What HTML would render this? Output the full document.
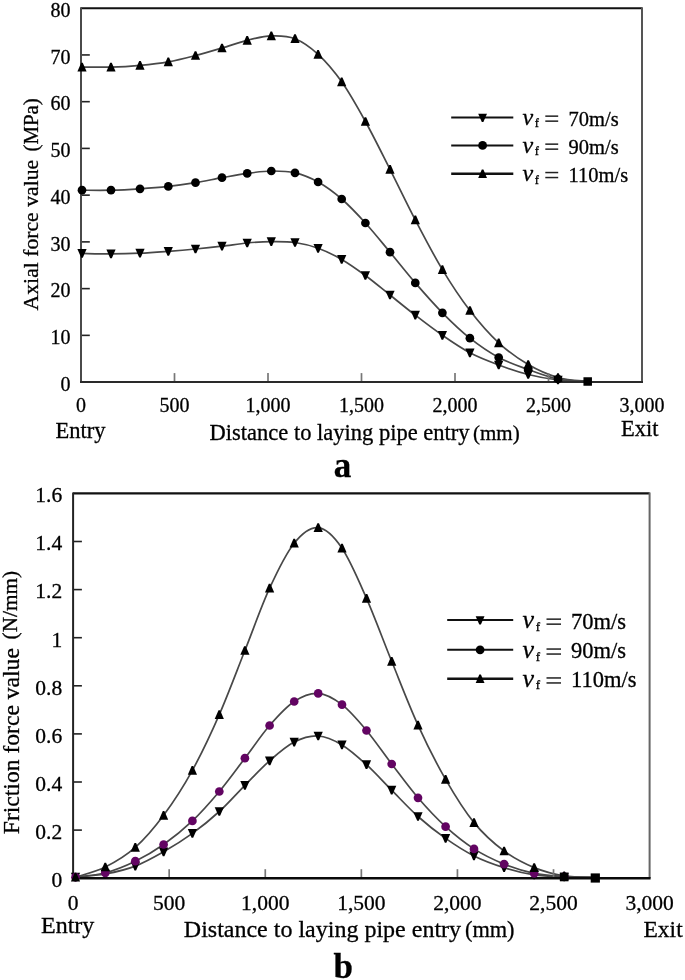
<!DOCTYPE html><html><head><meta charset="utf-8"><style>html,body{margin:0;padding:0;background:#fff;}svg{display:block;will-change:transform}text{stroke:#000;stroke-width:0.3px}</style></head><body>
<svg width="685" height="980" viewBox="0 0 685 980" font-family='"Liberation Serif", serif' fill="#000">
<path d="M81.00,8.20 H642.00" fill="none" stroke="#111" stroke-width="2.1"/>
<path d="M642.00,7.20 V382.10" fill="none" stroke="#555" stroke-width="2"/>
<path d="M82.00,253.40 C86.83,253.48 101.33,253.93 111.00,253.90 C120.67,253.87 130.45,253.63 140.00,253.20 C149.55,252.77 159.05,252.00 168.30,251.30 C177.55,250.60 186.55,249.85 195.50,249.00 C204.45,248.15 213.38,247.20 222.00,246.20 C230.62,245.20 238.98,243.77 247.20,243.00 C255.42,242.23 263.33,241.68 271.30,241.60 C279.27,241.52 287.20,241.38 295.00,242.50 C302.80,243.62 310.32,245.48 318.10,248.30 C325.88,251.12 333.82,254.87 341.70,259.40 C349.58,263.93 357.35,269.57 365.40,275.50 C373.45,281.43 381.68,288.38 390.00,295.00 C398.32,301.62 406.57,308.48 415.30,315.20 C424.03,321.92 433.30,329.03 442.40,335.30 C451.50,341.57 460.52,347.85 469.90,352.80 C479.28,357.75 488.98,361.38 498.70,365.00 C508.42,368.62 518.32,372.00 528.20,374.50 C538.08,377.00 548.08,378.83 558.00,380.00 C567.92,381.17 582.75,381.25 587.70,381.50" fill="none" stroke="#484848" stroke-width="1.7"/>
<path d="M82.00,190.20 C86.83,190.20 101.33,190.43 111.00,190.20 C120.67,189.97 130.45,189.43 140.00,188.80 C149.55,188.17 159.05,187.42 168.30,186.40 C177.55,185.38 186.55,184.15 195.50,182.70 C204.45,181.25 213.38,179.25 222.00,177.70 C230.62,176.15 238.98,174.52 247.20,173.40 C255.42,172.28 263.33,171.08 271.30,171.00 C279.27,170.92 287.20,171.07 295.00,172.90 C302.80,174.73 310.32,177.65 318.10,182.00 C325.88,186.35 333.82,192.17 341.70,199.00 C349.58,205.83 357.35,214.13 365.40,223.00 C373.45,231.87 381.68,242.22 390.00,252.20 C398.32,262.18 406.57,272.80 415.30,282.90 C424.03,293.00 433.30,303.58 442.40,312.80 C451.50,322.02 460.52,330.75 469.90,338.20 C479.28,345.65 488.98,352.28 498.70,357.50 C508.42,362.72 518.32,365.92 528.20,369.50 C538.08,373.08 548.08,377.00 558.00,379.00 C567.92,381.00 582.75,381.08 587.70,381.50" fill="none" stroke="#484848" stroke-width="1.7"/>
<path d="M82.00,67.10 C86.83,67.10 101.33,67.40 111.00,67.10 C120.67,66.80 130.45,66.18 140.00,65.30 C149.55,64.42 159.05,63.43 168.30,61.80 C177.55,60.17 186.55,57.80 195.50,55.50 C204.45,53.20 213.38,50.53 222.00,48.00 C230.62,45.47 238.98,42.32 247.20,40.30 C255.42,38.28 263.33,36.17 271.30,35.90 C279.27,35.63 287.20,35.63 295.00,38.70 C302.80,41.77 310.32,47.12 318.10,54.30 C325.88,61.48 333.82,70.60 341.70,81.80 C349.58,93.00 357.35,106.92 365.40,121.50 C373.45,136.08 381.68,152.90 390.00,169.30 C398.32,185.70 406.57,203.18 415.30,219.90 C424.03,236.62 433.30,254.50 442.40,269.60 C451.50,284.70 460.52,298.30 469.90,310.50 C479.28,322.70 488.98,333.80 498.70,342.80 C508.42,351.80 518.32,358.72 528.20,364.50 C538.08,370.28 548.08,374.67 558.00,377.50 C567.92,380.33 582.75,380.83 587.70,381.50" fill="none" stroke="#484848" stroke-width="1.7"/>
<path d="M81.00,335.36 h8.8" stroke="#222" stroke-width="1.6"/>
<path d="M81.00,288.62 h8.8" stroke="#222" stroke-width="1.6"/>
<path d="M81.00,241.89 h8.8" stroke="#222" stroke-width="1.6"/>
<path d="M81.00,195.15 h8.8" stroke="#222" stroke-width="1.6"/>
<path d="M81.00,148.41 h8.8" stroke="#222" stroke-width="1.6"/>
<path d="M81.00,101.68 h8.8" stroke="#222" stroke-width="1.6"/>
<path d="M81.00,54.94 h8.8" stroke="#222" stroke-width="1.6"/>
<path d="M174.50,382.10 v-9" stroke="#777" stroke-width="1.7"/>
<path d="M268.00,382.10 v-9" stroke="#777" stroke-width="1.7"/>
<path d="M361.50,382.10 v-9" stroke="#777" stroke-width="1.7"/>
<path d="M455.00,382.10 v-9" stroke="#777" stroke-width="1.7"/>
<path d="M548.50,382.10 v-9" stroke="#777" stroke-width="1.7"/>
<path d="M81.00,7.20 V382.10" fill="none" stroke="#4a4a4a" stroke-width="2"/>
<path d="M80.00,382.10 H643.00" fill="none" stroke="#2a2a2a" stroke-width="2"/>
<path d="M77.40,249.03 L86.60,249.03 L82.80,257.77 L81.20,257.77Z" fill="#000"/>
<path d="M106.40,249.53 L115.60,249.53 L111.80,258.27 L110.20,258.27Z" fill="#000"/>
<path d="M135.40,248.83 L144.60,248.83 L140.80,257.57 L139.20,257.57Z" fill="#000"/>
<path d="M163.70,246.93 L172.90,246.93 L169.10,255.67 L167.50,255.67Z" fill="#000"/>
<path d="M190.90,244.63 L200.10,244.63 L196.30,253.37 L194.70,253.37Z" fill="#000"/>
<path d="M217.40,241.83 L226.60,241.83 L222.80,250.57 L221.20,250.57Z" fill="#000"/>
<path d="M242.60,238.63 L251.80,238.63 L248.00,247.37 L246.40,247.37Z" fill="#000"/>
<path d="M266.70,237.23 L275.90,237.23 L272.10,245.97 L270.50,245.97Z" fill="#000"/>
<path d="M290.40,238.13 L299.60,238.13 L295.80,246.87 L294.20,246.87Z" fill="#000"/>
<path d="M313.50,243.93 L322.70,243.93 L318.90,252.67 L317.30,252.67Z" fill="#000"/>
<path d="M337.10,255.03 L346.30,255.03 L342.50,263.77 L340.90,263.77Z" fill="#000"/>
<path d="M360.80,271.13 L370.00,271.13 L366.20,279.87 L364.60,279.87Z" fill="#000"/>
<path d="M385.40,290.63 L394.60,290.63 L390.80,299.37 L389.20,299.37Z" fill="#000"/>
<path d="M410.70,310.83 L419.90,310.83 L416.10,319.57 L414.50,319.57Z" fill="#000"/>
<path d="M437.80,330.93 L447.00,330.93 L443.20,339.67 L441.60,339.67Z" fill="#000"/>
<path d="M465.30,348.43 L474.50,348.43 L470.70,357.17 L469.10,357.17Z" fill="#000"/>
<path d="M494.10,360.63 L503.30,360.63 L499.50,369.37 L497.90,369.37Z" fill="#000"/>
<path d="M523.60,370.13 L532.80,370.13 L529.00,378.87 L527.40,378.87Z" fill="#000"/>
<path d="M553.40,375.63 L562.60,375.63 L558.80,384.37 L557.20,384.37Z" fill="#000"/>
<circle cx="82.00" cy="190.20" r="4.35" fill="#000"/>
<circle cx="111.00" cy="190.20" r="4.35" fill="#000"/>
<circle cx="140.00" cy="188.80" r="4.35" fill="#000"/>
<circle cx="168.30" cy="186.40" r="4.35" fill="#000"/>
<circle cx="195.50" cy="182.70" r="4.35" fill="#000"/>
<circle cx="222.00" cy="177.70" r="4.35" fill="#000"/>
<circle cx="247.20" cy="173.40" r="4.35" fill="#000"/>
<circle cx="271.30" cy="171.00" r="4.35" fill="#000"/>
<circle cx="295.00" cy="172.90" r="4.35" fill="#000"/>
<circle cx="318.10" cy="182.00" r="4.35" fill="#000"/>
<circle cx="341.70" cy="199.00" r="4.35" fill="#000"/>
<circle cx="365.40" cy="223.00" r="4.35" fill="#000"/>
<circle cx="390.00" cy="252.20" r="4.35" fill="#000"/>
<circle cx="415.30" cy="282.90" r="4.35" fill="#000"/>
<circle cx="442.40" cy="312.80" r="4.35" fill="#000"/>
<circle cx="469.90" cy="338.20" r="4.35" fill="#000"/>
<circle cx="498.70" cy="357.50" r="4.35" fill="#000"/>
<circle cx="528.20" cy="369.50" r="4.35" fill="#000"/>
<circle cx="558.00" cy="379.00" r="4.35" fill="#000"/>
<path d="M81.20,62.73 L82.80,62.73 L86.60,71.47 L77.40,71.47Z" fill="#000"/>
<path d="M110.20,62.73 L111.80,62.73 L115.60,71.47 L106.40,71.47Z" fill="#000"/>
<path d="M139.20,60.93 L140.80,60.93 L144.60,69.67 L135.40,69.67Z" fill="#000"/>
<path d="M167.50,57.43 L169.10,57.43 L172.90,66.17 L163.70,66.17Z" fill="#000"/>
<path d="M194.70,51.13 L196.30,51.13 L200.10,59.87 L190.90,59.87Z" fill="#000"/>
<path d="M221.20,43.63 L222.80,43.63 L226.60,52.37 L217.40,52.37Z" fill="#000"/>
<path d="M246.40,35.93 L248.00,35.93 L251.80,44.67 L242.60,44.67Z" fill="#000"/>
<path d="M270.50,31.53 L272.10,31.53 L275.90,40.27 L266.70,40.27Z" fill="#000"/>
<path d="M294.20,34.33 L295.80,34.33 L299.60,43.07 L290.40,43.07Z" fill="#000"/>
<path d="M317.30,49.93 L318.90,49.93 L322.70,58.67 L313.50,58.67Z" fill="#000"/>
<path d="M340.90,77.43 L342.50,77.43 L346.30,86.17 L337.10,86.17Z" fill="#000"/>
<path d="M364.60,117.13 L366.20,117.13 L370.00,125.87 L360.80,125.87Z" fill="#000"/>
<path d="M389.20,164.93 L390.80,164.93 L394.60,173.67 L385.40,173.67Z" fill="#000"/>
<path d="M414.50,215.53 L416.10,215.53 L419.90,224.27 L410.70,224.27Z" fill="#000"/>
<path d="M441.60,265.23 L443.20,265.23 L447.00,273.97 L437.80,273.97Z" fill="#000"/>
<path d="M469.10,306.13 L470.70,306.13 L474.50,314.87 L465.30,314.87Z" fill="#000"/>
<path d="M497.90,338.43 L499.50,338.43 L503.30,347.17 L494.10,347.17Z" fill="#000"/>
<path d="M527.40,360.13 L529.00,360.13 L532.80,368.87 L523.60,368.87Z" fill="#000"/>
<path d="M557.20,373.13 L558.80,373.13 L562.60,381.87 L553.40,381.87Z" fill="#000"/>
<rect x="583.45" y="377.25" width="8.5" height="8.5" fill="#000"/>
<text x="70.6" y="390.90" font-size="20" text-anchor="end">0</text>
<text x="70.6" y="344.16" font-size="20" text-anchor="end">10</text>
<text x="70.6" y="297.43" font-size="20" text-anchor="end">20</text>
<text x="70.6" y="250.69" font-size="20" text-anchor="end">30</text>
<text x="70.6" y="203.95" font-size="20" text-anchor="end">40</text>
<text x="70.6" y="157.21" font-size="20" text-anchor="end">50</text>
<text x="70.6" y="110.48" font-size="20" text-anchor="end">60</text>
<text x="70.6" y="63.74" font-size="20" text-anchor="end">70</text>
<text x="70.6" y="17.00" font-size="20" text-anchor="end">80</text>
<text x="81.00" y="411.6" font-size="20" text-anchor="middle">0</text>
<text x="174.50" y="411.6" font-size="20" text-anchor="middle">500</text>
<text x="268.00" y="411.6" font-size="20" text-anchor="middle">1,000</text>
<text x="361.50" y="411.6" font-size="20" text-anchor="middle">1,500</text>
<text x="455.00" y="411.6" font-size="20" text-anchor="middle">2,000</text>
<text x="548.50" y="411.6" font-size="20" text-anchor="middle">2,500</text>
<text x="642.00" y="411.6" font-size="20" text-anchor="middle">3,000</text>
<text transform="translate(37.6,310.4) rotate(-90)" font-size="21.7">Axial force value</text>
<text transform="translate(37.6,151.5) rotate(-90)" font-size="20.8">(MPa)</text>
<text x="209.6" y="439.6" font-size="22.5">Distance to laying pipe entry</text>
<text x="473" y="439.6" font-size="21">(mm)</text>
<text x="55.5" y="437.7" font-size="22.5">Entry</text>
<text x="621" y="435.6" font-size="22.5">Exit</text>
<path d="M451.2,117.4 H513.3" stroke="#111" stroke-width="2.0"/>
<path d="M478.20,113.72 L487.00,113.72 L483.40,122.08 L481.80,122.08Z" fill="#000"/>
<text x="522.5" y="125.00" font-size="24" font-style="italic">v</text>
<text x="534.8" y="127.40" font-size="12.5">f</text>
<rect x="545.3" y="115.40" width="12.900000000000091" height="1.5" fill="#222"/>
<rect x="545.3" y="120.40" width="12.900000000000091" height="1.5" fill="#222"/>
<text x="568.6" y="125.90" font-size="20.5">70m/s</text>
<path d="M451.2,145.4 H513.3" stroke="#111" stroke-width="2.0"/>
<circle cx="482.60" cy="145.40" r="4.4" fill="#000"/>
<text x="522.5" y="153.00" font-size="24" font-style="italic">v</text>
<text x="534.8" y="155.40" font-size="12.5">f</text>
<rect x="545.3" y="143.40" width="12.900000000000091" height="1.5" fill="#222"/>
<rect x="545.3" y="148.40" width="12.900000000000091" height="1.5" fill="#222"/>
<text x="568.6" y="153.90" font-size="20.5">90m/s</text>
<path d="M451.2,173.8 H513.3" stroke="#111" stroke-width="2.6"/>
<path d="M481.80,169.62 L483.40,169.62 L487.00,177.98 L478.20,177.98Z" fill="#000"/>
<text x="522.5" y="181.40" font-size="24" font-style="italic">v</text>
<text x="534.8" y="183.80" font-size="12.5">f</text>
<rect x="545.3" y="171.80" width="12.900000000000091" height="1.5" fill="#222"/>
<rect x="545.3" y="176.80" width="12.900000000000091" height="1.5" fill="#222"/>
<text x="568.6" y="182.30" font-size="20.5">110m/s</text>
<path d="M73.10,493.40 H649.60" fill="none" stroke="#111" stroke-width="2.1"/>
<path d="M649.60,492.40 V878.20" fill="none" stroke="#666" stroke-width="2"/>
<path d="M75.50,877.20 C80.47,876.67 95.33,875.85 105.30,874.00 C115.27,872.15 125.58,869.80 135.30,866.10 C145.02,862.40 154.08,857.25 163.60,851.80 C173.12,846.35 183.12,840.12 192.40,833.40 C201.68,826.68 210.55,819.52 219.30,811.50 C228.05,803.48 236.52,793.75 244.90,785.30 C253.28,776.85 261.38,768.00 269.60,760.80 C277.82,753.60 286.10,746.23 294.20,742.10 C302.30,737.97 310.23,735.53 318.20,736.00 C326.17,736.47 333.95,740.12 342.00,744.90 C350.05,749.68 358.22,757.15 366.50,764.70 C374.78,772.25 383.12,781.57 391.70,790.20 C400.28,798.83 409.02,808.47 418.00,816.50 C426.98,824.53 436.27,831.83 445.60,838.40 C454.93,844.97 464.25,851.03 474.00,855.90 C483.75,860.77 494.07,864.43 504.10,867.60 C514.13,870.77 524.18,873.33 534.20,874.90 C544.22,876.47 554.02,876.57 564.20,877.00 C574.38,877.43 590.12,877.42 595.30,877.50" fill="none" stroke="#484848" stroke-width="1.7"/>
<path d="M75.50,877.20 C80.47,876.47 95.33,875.47 105.30,872.80 C115.27,870.13 125.58,865.92 135.30,861.20 C145.02,856.48 154.08,851.22 163.60,844.50 C173.12,837.78 183.12,829.73 192.40,820.90 C201.68,812.07 210.55,801.95 219.30,791.50 C228.05,781.05 236.52,769.20 244.90,758.20 C253.28,747.20 261.38,734.95 269.60,725.50 C277.82,716.05 286.10,706.85 294.20,701.50 C302.30,696.15 310.23,692.87 318.20,693.40 C326.17,693.93 333.95,698.52 342.00,704.70 C350.05,710.88 358.22,720.62 366.50,730.50 C374.78,740.38 383.12,752.78 391.70,764.00 C400.28,775.22 409.02,787.35 418.00,797.80 C426.98,808.25 436.27,818.18 445.60,826.70 C454.93,835.22 464.25,842.67 474.00,848.90 C483.75,855.13 494.07,860.02 504.10,864.10 C514.13,868.18 524.18,871.33 534.20,873.40 C544.22,875.47 554.02,875.82 564.20,876.50 C574.38,877.18 590.12,877.33 595.30,877.50" fill="none" stroke="#484848" stroke-width="1.7"/>
<path d="M75.50,877.20 C80.47,875.50 95.33,871.97 105.30,867.00 C115.27,862.03 125.58,856.02 135.30,847.40 C145.02,838.78 154.08,828.15 163.60,815.30 C173.12,802.45 183.12,787.08 192.40,770.30 C201.68,753.52 210.55,734.57 219.30,714.60 C228.05,694.63 236.52,671.57 244.90,650.50 C253.28,629.43 261.38,606.08 269.60,588.20 C277.82,570.32 286.10,553.28 294.20,543.20 C302.30,533.12 310.23,526.87 318.20,527.70 C326.17,528.53 333.95,536.43 342.00,548.20 C350.05,559.97 358.22,579.45 366.50,598.30 C374.78,617.15 383.12,640.17 391.70,661.30 C400.28,682.43 409.02,705.42 418.00,725.10 C426.98,744.78 436.27,763.15 445.60,779.40 C454.93,795.65 464.25,810.67 474.00,822.60 C483.75,834.53 494.07,843.50 504.10,851.00 C514.13,858.50 524.18,863.47 534.20,867.60 C544.22,871.73 554.02,874.15 564.20,875.80 C574.38,877.45 590.12,877.22 595.30,877.50" fill="none" stroke="#484848" stroke-width="1.7"/>
<path d="M73.10,830.10 h8.8" stroke="#222" stroke-width="1.6"/>
<path d="M73.10,782.00 h8.8" stroke="#222" stroke-width="1.6"/>
<path d="M73.10,733.90 h8.8" stroke="#222" stroke-width="1.6"/>
<path d="M73.10,685.80 h8.8" stroke="#222" stroke-width="1.6"/>
<path d="M73.10,637.70 h8.8" stroke="#222" stroke-width="1.6"/>
<path d="M73.10,589.60 h8.8" stroke="#222" stroke-width="1.6"/>
<path d="M73.10,541.50 h8.8" stroke="#222" stroke-width="1.6"/>
<path d="M169.18,878.20 v-9" stroke="#777" stroke-width="1.7"/>
<path d="M265.27,878.20 v-9" stroke="#777" stroke-width="1.7"/>
<path d="M361.35,878.20 v-9" stroke="#777" stroke-width="1.7"/>
<path d="M457.43,878.20 v-9" stroke="#777" stroke-width="1.7"/>
<path d="M553.52,878.20 v-9" stroke="#777" stroke-width="1.7"/>
<path d="M73.10,492.40 V878.20" fill="none" stroke="#222" stroke-width="2"/>
<path d="M72.10,878.20 H650.60" fill="none" stroke="#0a0a0a" stroke-width="2.4"/>
<path d="M70.90,872.83 L80.10,872.83 L76.30,881.57 L74.70,881.57Z" fill="#000"/>
<path d="M100.70,869.63 L109.90,869.63 L106.10,878.37 L104.50,878.37Z" fill="#000"/>
<path d="M130.70,861.73 L139.90,861.73 L136.10,870.47 L134.50,870.47Z" fill="#000"/>
<path d="M159.00,847.43 L168.20,847.43 L164.40,856.17 L162.80,856.17Z" fill="#000"/>
<path d="M187.80,829.03 L197.00,829.03 L193.20,837.77 L191.60,837.77Z" fill="#000"/>
<path d="M214.70,807.13 L223.90,807.13 L220.10,815.87 L218.50,815.87Z" fill="#000"/>
<path d="M240.30,780.93 L249.50,780.93 L245.70,789.67 L244.10,789.67Z" fill="#000"/>
<path d="M265.00,756.43 L274.20,756.43 L270.40,765.17 L268.80,765.17Z" fill="#000"/>
<path d="M289.60,737.73 L298.80,737.73 L295.00,746.47 L293.40,746.47Z" fill="#000"/>
<path d="M313.60,731.63 L322.80,731.63 L319.00,740.37 L317.40,740.37Z" fill="#000"/>
<path d="M337.40,740.53 L346.60,740.53 L342.80,749.27 L341.20,749.27Z" fill="#000"/>
<path d="M361.90,760.33 L371.10,760.33 L367.30,769.07 L365.70,769.07Z" fill="#000"/>
<path d="M387.10,785.83 L396.30,785.83 L392.50,794.57 L390.90,794.57Z" fill="#000"/>
<path d="M413.40,812.13 L422.60,812.13 L418.80,820.87 L417.20,820.87Z" fill="#000"/>
<path d="M441.00,834.03 L450.20,834.03 L446.40,842.77 L444.80,842.77Z" fill="#000"/>
<path d="M469.40,851.53 L478.60,851.53 L474.80,860.27 L473.20,860.27Z" fill="#000"/>
<path d="M499.50,863.23 L508.70,863.23 L504.90,871.97 L503.30,871.97Z" fill="#000"/>
<path d="M529.60,870.53 L538.80,870.53 L535.00,879.27 L533.40,879.27Z" fill="#000"/>
<path d="M559.60,872.63 L568.80,872.63 L565.00,881.37 L563.40,881.37Z" fill="#000"/>
<circle cx="75.50" cy="877.20" r="4.35" fill="#620462"/>
<circle cx="105.30" cy="872.80" r="4.35" fill="#620462"/>
<circle cx="135.30" cy="861.20" r="4.35" fill="#620462"/>
<circle cx="163.60" cy="844.50" r="4.35" fill="#620462"/>
<circle cx="192.40" cy="820.90" r="4.35" fill="#620462"/>
<circle cx="219.30" cy="791.50" r="4.35" fill="#620462"/>
<circle cx="244.90" cy="758.20" r="4.35" fill="#620462"/>
<circle cx="269.60" cy="725.50" r="4.35" fill="#620462"/>
<circle cx="294.20" cy="701.50" r="4.35" fill="#620462"/>
<circle cx="318.20" cy="693.40" r="4.35" fill="#620462"/>
<circle cx="342.00" cy="704.70" r="4.35" fill="#620462"/>
<circle cx="366.50" cy="730.50" r="4.35" fill="#620462"/>
<circle cx="391.70" cy="764.00" r="4.35" fill="#620462"/>
<circle cx="418.00" cy="797.80" r="4.35" fill="#620462"/>
<circle cx="445.60" cy="826.70" r="4.35" fill="#620462"/>
<circle cx="474.00" cy="848.90" r="4.35" fill="#620462"/>
<circle cx="504.10" cy="864.10" r="4.35" fill="#620462"/>
<circle cx="534.20" cy="873.40" r="4.35" fill="#620462"/>
<circle cx="564.20" cy="876.50" r="4.35" fill="#620462"/>
<path d="M74.70,872.83 L76.30,872.83 L80.10,881.57 L70.90,881.57Z" fill="#000"/>
<path d="M104.50,862.63 L106.10,862.63 L109.90,871.37 L100.70,871.37Z" fill="#000"/>
<path d="M134.50,843.03 L136.10,843.03 L139.90,851.77 L130.70,851.77Z" fill="#000"/>
<path d="M162.80,810.93 L164.40,810.93 L168.20,819.67 L159.00,819.67Z" fill="#000"/>
<path d="M191.60,765.93 L193.20,765.93 L197.00,774.67 L187.80,774.67Z" fill="#000"/>
<path d="M218.50,710.23 L220.10,710.23 L223.90,718.97 L214.70,718.97Z" fill="#000"/>
<path d="M244.10,646.13 L245.70,646.13 L249.50,654.87 L240.30,654.87Z" fill="#000"/>
<path d="M268.80,583.83 L270.40,583.83 L274.20,592.57 L265.00,592.57Z" fill="#000"/>
<path d="M293.40,538.83 L295.00,538.83 L298.80,547.57 L289.60,547.57Z" fill="#000"/>
<path d="M317.40,523.33 L319.00,523.33 L322.80,532.07 L313.60,532.07Z" fill="#000"/>
<path d="M341.20,543.83 L342.80,543.83 L346.60,552.57 L337.40,552.57Z" fill="#000"/>
<path d="M365.70,593.93 L367.30,593.93 L371.10,602.67 L361.90,602.67Z" fill="#000"/>
<path d="M390.90,656.93 L392.50,656.93 L396.30,665.67 L387.10,665.67Z" fill="#000"/>
<path d="M417.20,720.73 L418.80,720.73 L422.60,729.47 L413.40,729.47Z" fill="#000"/>
<path d="M444.80,775.03 L446.40,775.03 L450.20,783.77 L441.00,783.77Z" fill="#000"/>
<path d="M473.20,818.23 L474.80,818.23 L478.60,826.97 L469.40,826.97Z" fill="#000"/>
<path d="M503.30,846.63 L504.90,846.63 L508.70,855.37 L499.50,855.37Z" fill="#000"/>
<path d="M533.40,863.23 L535.00,863.23 L538.80,871.97 L529.60,871.97Z" fill="#000"/>
<path d="M563.40,871.43 L565.00,871.43 L568.80,880.17 L559.60,880.17Z" fill="#000"/>
<rect x="590.70" y="873.40" width="9.2" height="9.2" fill="#000"/>
<rect x="559.90" y="872.70" width="8.6" height="8.6" fill="#000"/>
<text x="62.2" y="887.00" font-size="21.5" text-anchor="end">0</text>
<text x="62.2" y="838.90" font-size="21.5" text-anchor="end">0.2</text>
<text x="62.2" y="790.80" font-size="21.5" text-anchor="end">0.4</text>
<text x="62.2" y="742.70" font-size="21.5" text-anchor="end">0.6</text>
<text x="62.2" y="694.60" font-size="21.5" text-anchor="end">0.8</text>
<text x="62.2" y="646.50" font-size="21.5" text-anchor="end">1</text>
<text x="62.2" y="598.40" font-size="21.5" text-anchor="end">1.2</text>
<text x="62.2" y="550.30" font-size="21.5" text-anchor="end">1.4</text>
<text x="62.2" y="502.20" font-size="21.5" text-anchor="end">1.6</text>
<text x="73.10" y="909.5" font-size="21.5" text-anchor="middle">0</text>
<text x="169.18" y="909.5" font-size="21.5" text-anchor="middle">500</text>
<text x="265.27" y="909.5" font-size="21.5" text-anchor="middle">1,000</text>
<text x="361.35" y="909.5" font-size="21.5" text-anchor="middle">1,500</text>
<text x="457.43" y="909.5" font-size="21.5" text-anchor="middle">2,000</text>
<text x="553.52" y="909.5" font-size="21.5" text-anchor="middle">2,500</text>
<text x="649.60" y="909.5" font-size="21.5" text-anchor="middle">3,000</text>
<text transform="translate(19.4,834.2) rotate(-90)" font-size="23.6">Friction force value</text>
<text transform="translate(17.4,639.4) rotate(-90)" font-size="21.3">(N/mm)</text>
<text x="183.8" y="936.9" font-size="24">Distance to laying pipe entry</text>
<text x="465" y="936.9" font-size="22.3">(mm)</text>
<text x="41" y="933" font-size="24">Entry</text>
<text x="643.5" y="936.5" font-size="23.5">Exit</text>
<path d="M447.2,619.9 H513.2" stroke="#111" stroke-width="2.0"/>
<path d="M475.70,616.22 L484.50,616.22 L480.90,624.58 L479.30,624.58Z" fill="#000"/>
<text x="522.5" y="628.00" font-size="26" font-style="italic">v</text>
<text x="535.8" y="630.60" font-size="13">f</text>
<rect x="546.5" y="618.40" width="14.5" height="1.5" fill="#222"/>
<rect x="546.5" y="623.40" width="14.5" height="1.5" fill="#222"/>
<text x="571" y="628.50" font-size="22.5">70m/s</text>
<path d="M447.2,649.8 H513.2" stroke="#111" stroke-width="2.0"/>
<circle cx="480.10" cy="649.80" r="4.4" fill="#000"/>
<text x="522.5" y="657.90" font-size="26" font-style="italic">v</text>
<text x="535.8" y="660.50" font-size="13">f</text>
<rect x="546.5" y="648.30" width="14.5" height="1.5" fill="#222"/>
<rect x="546.5" y="653.30" width="14.5" height="1.5" fill="#222"/>
<text x="571" y="658.40" font-size="22.5">90m/s</text>
<path d="M447.2,678.7 H513.2" stroke="#111" stroke-width="2.6"/>
<path d="M479.30,674.52 L480.90,674.52 L484.50,682.88 L475.70,682.88Z" fill="#000"/>
<text x="522.5" y="686.80" font-size="26" font-style="italic">v</text>
<text x="535.8" y="689.40" font-size="13">f</text>
<rect x="546.5" y="677.20" width="14.5" height="1.5" fill="#222"/>
<rect x="546.5" y="682.20" width="14.5" height="1.5" fill="#222"/>
<text x="571" y="687.30" font-size="22.5">110m/s</text>
<text x="342.6" y="476.6" font-size="35" font-weight="bold" text-anchor="middle">a</text>
<text x="343.2" y="978.2" font-size="35" font-weight="bold" text-anchor="middle">b</text>
</svg></body></html>
